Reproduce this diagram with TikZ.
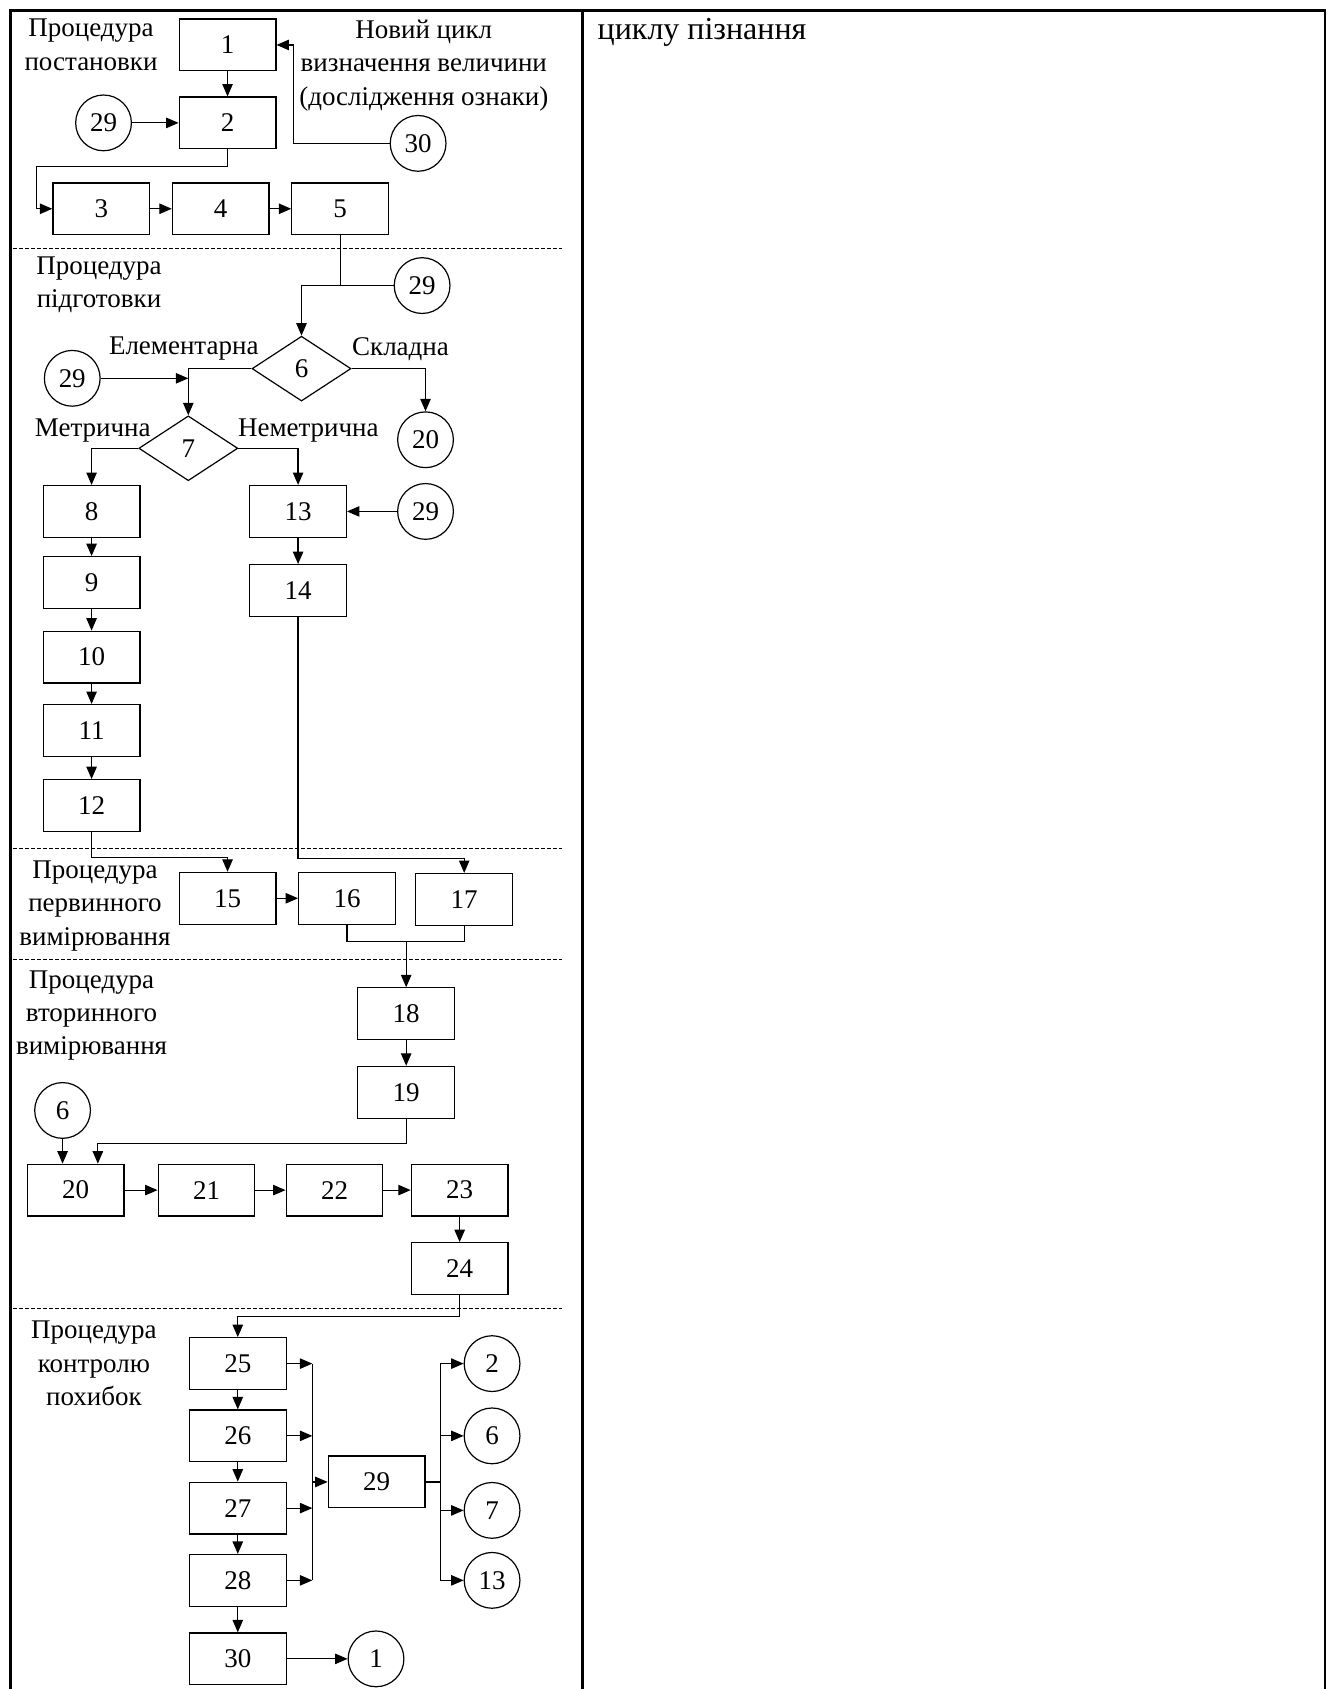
\documentclass[tikz,border=0pt]{standalone}
\usepackage{fontspec}
\setmainfont{Liberation Serif}
\usetikzlibrary{arrows.meta, shapes.geometric, positioning, calc}

\begin{document}
\begin{tikzpicture}[
  every node/.style = {font=\fontsize{13.5}{16.7}\selectfont},
  blockbox/.style = {rectangle, draw, line width=0.6pt,
                     minimum width=1.70cm, minimum height=0.91cm,
                     inner sep=0pt},
  linkcirc/.style = {circle, draw, line width=0.6pt,
                     minimum size=0.98cm, inner sep=0pt},
  decbox/.style   = {diamond, draw, line width=0.6pt,
                     minimum width=1.74cm, minimum height=1.14cm,
                     inner sep=0pt},
  note/.style     = {align=center, inner sep=0pt},
  arr/.style      = {-{Triangle[length=6.2pt, width=5.2pt]}, line width=0.6pt},
  wire/.style     = {line width=0.6pt},
  seprule/.style  = {line width=0.5pt, dash pattern=on 1.8pt off 1.2pt},
  tableline/.style = {line width=1.4pt},
]
\useasboundingbox (0,0) rectangle (23.48,-29.69);

%% ══ TABLE FRAME ═════════════════════════════════════════════════════════
\draw[tableline] (0.18,-29.69) |- (23.29,-0.19) -- (23.29,-29.69);
\draw[tableline] (10.24,-0.19) -- (10.24,-29.69);

\node[note, anchor=west, font=\fontsize{16}{19}\selectfont] at (10.50,-0.57) (tCycle) {циклу пізнання};

%% ══ SECTION 1: постановка ═══════════════════════════════════════════════
\node[note] at (1.60,-0.79) (tPost) {Процедура\\постановки};
\node[note] at (7.45,-1.15) (tNew) {Новий цикл\\визначення величини\\(дослідження ознаки)};

\node[blockbox] at (4.00,-0.79) (b1) {1};
\node[blockbox] at (4.00,-2.16) (b2) {2};
\node[linkcirc] at (1.82,-2.16) (c29a) {29};
\node[linkcirc] at (7.35,-2.52) (c30) {30};

\node[blockbox] at (1.78,-3.67) (b3) {3};
\node[blockbox] at (3.88,-3.67) (b4) {4};
\node[blockbox] at (5.98,-3.67) (b5) {5};

\draw[arr] (b1) -- (b2);
\draw[arr] (c29a) -- (b2);
\draw[arr] (c30.west) -| ([xshift=0.30cm]b1.east) -- (b1.east);
\draw[arr] (b2.south) -- ++(0,-0.30) -| ([xshift=-0.28cm]b3.west) -- (b3.west);
\draw[arr] (b3) -- (b4);
\draw[arr] (b4) -- (b5);

\draw[seprule] (0.23,-4.37) -- (9.88,-4.37);

%% ══ SECTION 2: підготовка ═══════════════════════════════════════════════
\node[note] at (1.74,-5.01) (tPrep) {Процедура\\підготовки};

\node[linkcirc] at (7.42,-5.02) (c29b) {29};
\node[decbox] at (5.30,-6.48) (d6) {6};
\node[note] at (3.23,-6.13) (tElem) {Елементарна};
\node[note] at (7.04,-6.13) (tComp) {Складна};
\node[linkcirc] at (1.27,-6.65) (c29c) {29};
\node[linkcirc] at (7.48,-7.73) (c20a) {20};

\node[decbox] at (3.31,-7.88) (d7) {7};
\node[note] at (1.63,-7.57) (tMetr) {Метрична};
\node[note] at (5.42,-7.57) (tNonm) {Неметрична};

\node[blockbox] at (1.61,-8.99) (b8) {8};
\node[blockbox] at (1.61,-10.24) (b9) {9};
\node[blockbox] at (1.61,-11.55) (b10) {10};
\node[blockbox] at (1.61,-12.84) (b11) {11};
\node[blockbox] at (1.61,-14.16) (b12) {12};

\node[blockbox] at (5.24,-8.99) (b13) {13};
\node[linkcirc] at (7.48,-8.99) (c29d) {29};
\node[blockbox] at (5.24,-10.38) (b14) {14};

\draw[wire] (b5.south) -- (b5.south |- c29b.west);
\draw[arr] (c29b.west) -| (d6.north);
\draw[arr] (d6.west) -| (d7.north);
\draw[arr] (c29c.east) -- (c29c.east -| d7.north);
\draw[arr] (d6.east) -| (c20a.north);
\draw[arr] (d7.west) -| (b8.north);
\draw[arr] (d7.east) -| (b13.north);
\draw[arr] (c29d) -- (b13);
\draw[arr] (b13) -- (b14);
\draw[arr] (b8) -- (b9);
\draw[arr] (b9) -- (b10);
\draw[arr] (b10) -- (b11);
\draw[arr] (b11) -- (b12);

\draw[seprule] (0.23,-14.92) -- (9.88,-14.92);

%% ══ SECTION 3: первинне вимірювання ═════════════════════════════════════
\node[note] at (1.67,-15.92) (tPrim) {Процедура\\первинного\\вимірювання};

\node[blockbox] at (4.00,-15.79) (b15) {15};
\node[blockbox] at (6.10,-15.79) (b16) {16};
\node[blockbox] at (8.16,-15.81) (b17) {17};

\draw[arr] (b12.south) -- ++(0,-0.45) -| (b15.north);
\draw[arr] (b14.south) |- ([yshift=0.25cm]b17.north) -- (b17.north);
\draw[arr] (b15) -- (b16);

\draw[seprule] (0.23,-16.87) -- (9.88,-16.87);

%% ══ SECTION 4: вторинне вимірювання ═════════════════════════════════════
\node[note] at (1.61,-17.85) (tSec) {Процедура\\вторинного\\вимірювання};

\node[blockbox] at (7.14,-17.82) (b18) {18};
\node[blockbox] at (7.14,-19.20) (b19) {19};
\node[linkcirc] at (1.10,-19.52) (c6) {6};

\node[blockbox] at (1.33,-20.92) (b20) {20};
\node[blockbox] at (3.63,-20.92) (b21) {21};
\node[blockbox] at (5.88,-20.92) (b22) {22};
\node[blockbox] at (8.08,-20.92) (b23) {23};
\node[blockbox] at (8.08,-22.30) (b24) {24};

\draw[wire] (b16.south) -- ++(0,-0.30) coordinate (j16) -| (b17.south);
\draw[arr] (j16 -| b18.north) -- (b18.north);
\draw[arr] (b18) -- (b19);
\draw[arr] (b19.south) -- ++(0,-0.44) -| ([xshift=0.39cm]b20.north);
\draw[arr] (c6.south) -- (c6.south |- b20.north);
\draw[arr] (b20) -- (b21);
\draw[arr] (b21) -- (b22);
\draw[arr] (b22) -- (b23);
\draw[arr] (b23) -- (b24);

\draw[seprule] (0.23,-23.00) -- (9.88,-23.00);

%% ══ SECTION 5: контроль похибок ═════════════════════════════════════════
\node[note] at (1.65,-23.97) (tCtrl) {Процедура\\контролю\\похибок};

\node[blockbox] at (4.18,-23.97) (b25) {25};
\node[blockbox] at (4.18,-25.24) (b26) {26};
\node[blockbox] at (4.18,-26.51) (b27) {27};
\node[blockbox] at (4.18,-27.78) (b28) {28};
\node[blockbox] at (4.18,-29.16) (b30) {30};
\node[linkcirc] at (6.61,-29.16) (c1) {1};

\node[blockbox] at (6.62,-26.05) (b29) {29};
\node[linkcirc] at (8.65,-23.97) (c2) {2};
\node[linkcirc] at (8.65,-25.24) (c6b) {6};
\node[linkcirc] at (8.65,-26.55) (c7) {7};
\node[linkcirc] at (8.65,-27.78) (c13) {13};

\coordinate (busin) at (5.49,-26.05);
\coordinate (busout) at (7.74,-26.05);

\draw[arr] (b24.south) -- ++(0,-0.38) -| (b25.north);
\draw[arr] (b25) -- (b26);
\draw[arr] (b26) -- (b27);
\draw[arr] (b27) -- (b28);
\draw[arr] (b28) -- (b30);
\draw[arr] (b30) -- (c1);

%% ── gather into 29 ──
\draw[arr] (b25.east) -- (b25.east -| busin);
\draw[arr] (b26.east) -- (b26.east -| busin);
\draw[arr] (b27.east) -- (b27.east -| busin);
\draw[arr] (b28.east) -- (b28.east -| busin);
\draw[wire] (b25.east -| busin) -- (b28.east -| busin);
\draw[arr] (busin) -- (b29.west);

%% ── spread from 29 ──
\draw[wire] (b29.east) -- (busout);
\draw[wire] (c2.west -| busout) -- (c13.west -| busout);
\draw[arr] (c2.west -| busout) -- (c2.west);
\draw[arr] (c6b.west -| busout) -- (c6b.west);
\draw[arr] (c7.west -| busout) -- (c7.west);
\draw[arr] (c13.west -| busout) -- (c13.west);

\end{tikzpicture}
\end{document}
